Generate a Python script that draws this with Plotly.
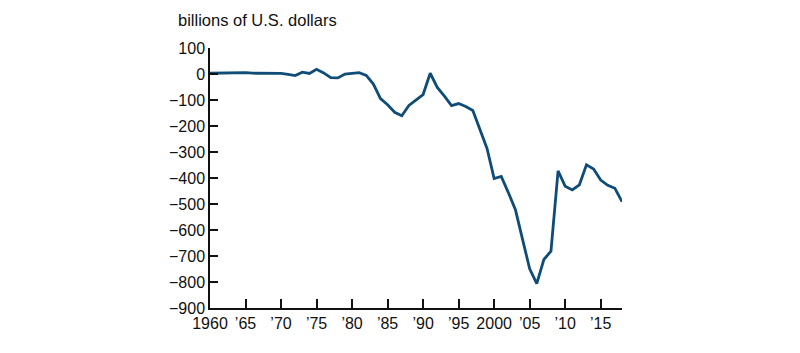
import plotly.graph_objects as go

years = list(range(1960, 2019))
balance = [2.8, 3.8, 3.4, 4.4, 6.8, 5.4, 3.0, 2.6, 0.6, 0.4,
           2.3, -1.4, -5.8, 7.1, 2.0, 18.1, 4.3, -14.3, -15.1, -0.3,
           2.3, 5.0, -5.5, -38.7, -94.3, -118.2, -147.2, -160.7, -121.2, -99.5,
           -79.0, 2.9, -51.6, -84.8, -121.6, -113.6, -124.8, -140.7, -215.0, -286.6,
           -401.9, -394.1, -456.1, -522.3, -635.9, -749.2, -806.2, -713.4, -681.3, -372.5,
           -431.3, -445.7, -426.2, -349.5, -365.2, -407.8, -428.3, -439.6, -491.0]

x_tickvals = [1960, 1965, 1970, 1975, 1980, 1985, 1990, 1995, 2000, 2005, 2010, 2015]
x_ticktext = ["1960", "\u201965", "\u201970", "\u201975", "\u201980", "\u201985",
              "\u201990", "\u201995", "2000", "\u201905", "\u201910", "\u201915"]
y_tickvals = [100, 0, -100, -200, -300, -400, -500, -600, -700, -800, -900]
y_ticktext = [str(v).replace("-", "\u2212") for v in y_tickvals]

fig = go.Figure()
fig.add_trace(go.Scatter(x=years, y=balance, mode="lines",
                         line=dict(color="#0f4d78", width=2.8),
                         hoverinfo="x+y", showlegend=False))

font_family = "Liberation Sans, Arial, Helvetica, sans-serif"
fig.update_layout(
    width=800, height=353,
    margin=dict(l=210, r=178, t=48, b=45),
    paper_bgcolor="white", plot_bgcolor="white",
    font=dict(family=font_family, size=16, color="#111"),
    xaxis=dict(range=[1960, 2018], tickvals=x_tickvals, ticktext=x_ticktext,
               showgrid=False, zeroline=False, showline=True, linecolor="#111",
               linewidth=1.5, ticks="inside", ticklen=9, tickwidth=1.5,
               tickcolor="#111", tickfont=dict(size=16)),
    yaxis=dict(range=[-900, 100], tickvals=y_tickvals, ticktext=y_ticktext,
               showgrid=False, zeroline=False, showline=True, linecolor="#111",
               linewidth=1.5, ticks="inside", ticklen=8, tickwidth=1.5,
               tickcolor="#111", tickfont=dict(size=16)),
    annotations=[dict(text="billions of U.S. dollars", xref="paper", yref="paper",
                      x=-0.0825, y=1.0, yanchor="middle", xanchor="left",
                      yshift=28, showarrow=False, font=dict(size=16.5))],
)

fig.write_html("out.html")
